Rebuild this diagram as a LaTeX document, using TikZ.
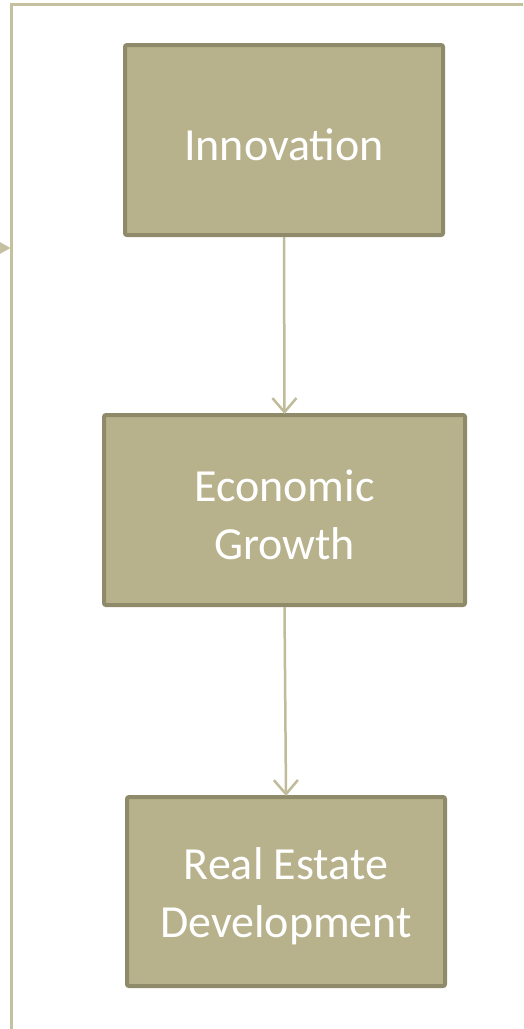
\documentclass[tikz,border=0pt]{standalone}
\usepackage{fontspec}
\setmainfont{Carlito}
\usetikzlibrary{arrows.meta}
\definecolor{boxfill}{RGB}{184,178,140}
\definecolor{boxedge}{RGB}{142,138,106}
\definecolor{linkcol}{RGB}{192,187,152}
\definecolor{loopcol}{RGB}{196,192,160}
\begin{document}
\begin{tikzpicture}[x=1pt,y=-1pt,
  stage/.style={draw=boxedge, fill=boxfill, line width=4pt, rounded corners=2pt,
    inner sep=0pt},
  caption/.style={text=white, font=\fontsize{46}{58}\selectfont, align=center,
    inner sep=0pt, yshift=-5pt},
  link/.style={draw=linkcol, line width=2.5pt,
    -{Straight Barb[length=14pt,width=24pt]}, shorten >=-1pt},
  loopline/.style={draw=loopcol, line width=3pt}]
\useasboundingbox (0,0) rectangle (523,1029);
\clip (0,0) rectangle (523,1029);

% the three stages of the chain
\node[stage, minimum width=318pt, minimum height=190pt,
  label={[caption]center:Innovation}] (inno) at (284,140) {};
\node[stage, minimum width=361pt, minimum height=190pt,
  label={[caption]center:Economic\\Growth}] (eco) at (284.5,510) {};
\node[stage, minimum width=318pt, minimum height=189pt,
  label={[caption]center:Real Estate\\Development}] (real) at (286,891.5) {};

% forward links
\draw[link] (inno.south) -- (eco.north);
\draw[link] (eco.south) -- (real.north);

% feedback loop running round the outside
\coordinate (loopTR) at (530,4.5);
\coordinate (loopTL) at (11.3,4.5);
\coordinate (loopBL) at (11.3,1040);
\draw[loopline] (loopTR) -- (loopTL) -- (loopBL);

% arrowhead entering the loop from the left
\coordinate (tip) at (10.5,248);
\fill[loopcol] (-3,240.5) -- (tip) -- (-3,255.5) -- cycle;
\end{tikzpicture}
\end{document}
